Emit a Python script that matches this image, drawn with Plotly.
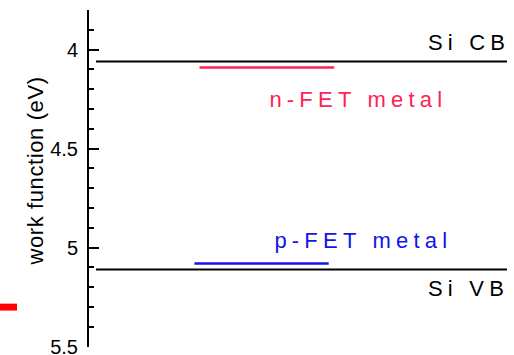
import plotly.graph_objects as go

# ---- data ----
level_names = ["Si CB", "n-FET metal", "p-FET metal", "Si VB"]
level_values = [4.06, 4.09, 5.08, 5.11]          # work function (eV)
level_x_start = [0.165, 2.6, 2.48, 0.165]
level_x_end = [9.835, 5.77, 5.64, 9.835]
level_colors = ["#000000", "#ff2255", "#1414e8", "#000000"]
level_widths = [2, 2.5, 2.5, 2]

y_tick_vals = [4, 4.5, 5, 5.5]
y_tick_text = ["4", "4.5", "5", "5.5"]
y_range = [5.502, 3.8]

marker_bar_y = [5.283, 5.318]   # small red bar at far left

FONT = "Arial, 'Liberation Sans', sans-serif"
LBL = 22

fig = go.Figure()
for name, v, x0, x1, c, w in zip(level_names, level_values, level_x_start,
                                 level_x_end, level_colors, level_widths):
    fig.add_trace(go.Scatter(x=[x0, x1], y=[v, v], mode="lines",
                             line=dict(color=c, width=w), name=name,
                             showlegend=False, hoverinfo="skip"))

fig.add_annotation(x=8.93, y=3.962, text="Si CB", showarrow=False,
                   font=dict(size=LBL, color="#000000", family=FONT),
                   xanchor="center", yanchor="middle")
fig.add_annotation(x=6.341, y=4.25, text="n-FET metal", showarrow=False,
                   font=dict(size=LBL, color="#ff2255", family=FONT),
                   xanchor="center", yanchor="middle")
fig.add_annotation(x=6.447, y=4.964, text="p-FET metal", showarrow=False,
                   font=dict(size=LBL, color="#1414e8", family=FONT),
                   xanchor="center", yanchor="middle")
fig.add_annotation(x=8.93, y=5.204, text="Si VB", showarrow=False,
                   font=dict(size=LBL, color="#000000", family=FONT),
                   xanchor="center", yanchor="middle")
fig.add_annotation(xref="paper", yref="paper", x=-0.127, y=0.522,
                   text="work function (eV)", showarrow=False, textangle=-90,
                   font=dict(size=22, color="#000000", family=FONT),
                   xanchor="center", yanchor="middle")

fig.add_shape(type="rect", xref="paper", yref="y",
              x0=-89 / 425, x1=(17 - 89) / 425,
              y0=marker_bar_y[0], y1=marker_bar_y[1],
              fillcolor="#ff0000", line=dict(width=0), layer="above")

fig.update_layout(
    width=514, height=355,
    margin=dict(l=89, r=0, t=10, b=8, autoexpand=False),
    paper_bgcolor="white", plot_bgcolor="white",
    font=dict(family=FONT, color="#000000"),
    showlegend=False,
    xaxis=dict(range=[0, 10], visible=False, fixedrange=True),
    yaxis=dict(range=y_range, tickvals=y_tick_vals, ticktext=y_tick_text,
               showline=True, linecolor="black", linewidth=2,
               ticks="inside", ticklen=10, tickwidth=1.5, tickcolor="black",
               minor=dict(dtick=0.1, ticks="inside", ticklen=5, tickwidth=1.5,
                          tickcolor="black", showgrid=False),
               showgrid=False, zeroline=False,
               tickfont=dict(size=20, family=FONT, color="#000000"),
               ticklabelstandoff=5, ticklabeloverflow="allow",
               automargin=False, fixedrange=True),
)

post = """
var gd = document.getElementById('{plot_id}');
gd.querySelectorAll('.annotation-text').forEach(function(t){
  var s = t.textContent;
  if (s.indexOf('work') === 0) { t.style.letterSpacing = '0.6px'; }
  else { t.style.letterSpacing = '5.2px'; }
});
"""

fig.write_html("out.html", post_script=post, config={"displayModeBar": False})
